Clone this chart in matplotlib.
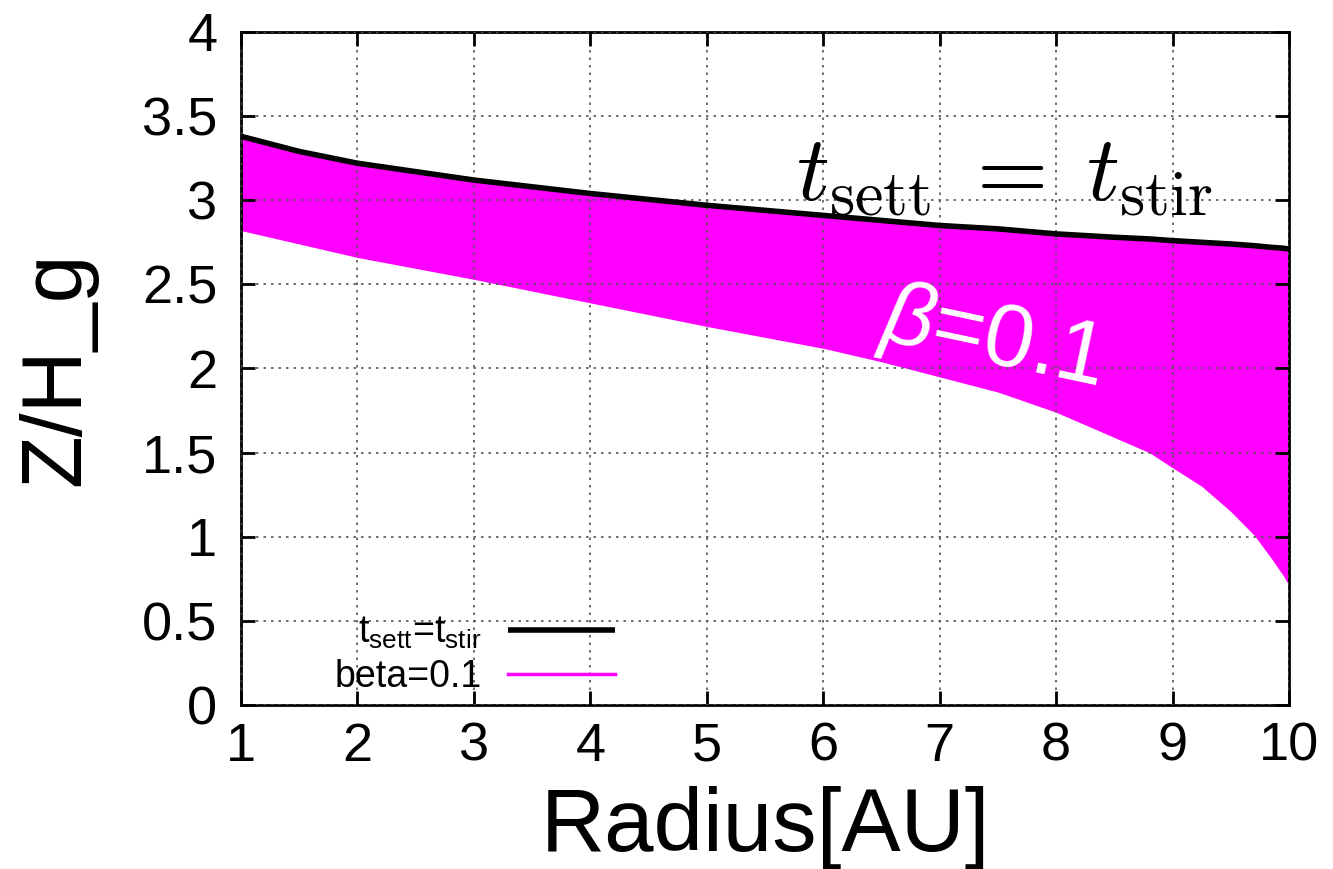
import numpy as np
import matplotlib
matplotlib.use("Agg")
from matplotlib import pyplot as plt

plt.rcParams["font.family"] = ["Liberation Sans", "DejaVu Sans"]
plt.rcParams["mathtext.fontset"] = "custom"
plt.rcParams["mathtext.rm"] = "Liberation Sans"
plt.rcParams["mathtext.it"] = "Liberation Sans:italic"

# radius [AU] and the two boundaries of the stirred layer
radius = np.array([1, 1.5, 2, 3, 4, 5, 6, 6.5, 7, 7.5, 8, 8.5, 8.8, 9,
                   9.25, 9.5, 9.7, 9.85, 9.95, 10])
z_sett_stir = np.array([3.38, 3.29, 3.22, 3.12, 3.04, 2.97, 2.91, 2.88, 2.85, 2.83,
                        2.80, 2.78, 2.77, 2.76, 2.75, 2.74, 2.73, 2.72, 2.715, 2.71])
z_beta = np.array([2.82, 2.74, 2.66, 2.53, 2.39, 2.25, 2.12, 2.04, 1.95, 1.86,
                   1.74, 1.59, 1.50, 1.41, 1.30, 1.15, 1.01, 0.87, 0.77, 0.71])

xticks = np.arange(1, 11)
yticks = [0, 0.5, 1, 1.5, 2, 2.5, 3, 3.5, 4]
ytick_labels = ["0", "0.5", "1", "1.5", "2", "2.5", "3", "3.5", "4"]

fig = plt.figure(figsize=(13.33, 8.69), dpi=100)
ax = fig.add_axes([0.1808, 0.1887, 0.7862, 0.7745])

ax.fill_between(radius, z_beta, z_sett_stir, color="#ff00ff", lw=0, zorder=1)
ax.plot(radius, z_sett_stir, color="black", lw=4, zorder=3,
        solid_capstyle="butt",
        label=r"t$_{\mathrm{sett}}$=t$_{\mathrm{stir}}$")
ax.plot([], [], color="#ff00ff", lw=2.5, label="beta=0.1")

ax.set_xlim(1, 10)
ax.set_ylim(0, 4)
ax.set_xticks(xticks)
ax.set_yticks(yticks)
ax.set_yticklabels(ytick_labels)
ax.tick_params(direction="in", length=10, width=2, labelsize=39, pad=12,
               top=True, right=True)
ax.tick_params(axis="y", pad=17)
for s in ax.spines.values():
    s.set_linewidth(2)

ax.set_axisbelow(False)
ax.grid(True, color="#555555", ls=(0, (1.5, 3)), lw=1.2, zorder=2)

ax.set_xlabel("Radius[AU]", fontsize=64, labelpad=10)
ax.set_ylabel("Z/H_g", fontsize=62, labelpad=32)

ax.text(5.77, 3.0, r"$t_{\rm sett} \;=\; t_{\rm stir}$", fontsize=66,
        math_fontfamily="cm", ha="left", va="baseline", zorder=4)
ax.text(7.45, 2.17, r"$\beta$=0.1", fontsize=64, color="white",
        rotation=-12, ha="center", va="center", zorder=4)

ax.legend(loc="lower left", bbox_to_anchor=(0.064, -0.024), frameon=False,
          markerfirst=False, fontsize=27, handlelength=2.85,
          labelspacing=0.2, handletextpad=0.7, borderaxespad=0.3)

fig.savefig("out.png", dpi=100)
